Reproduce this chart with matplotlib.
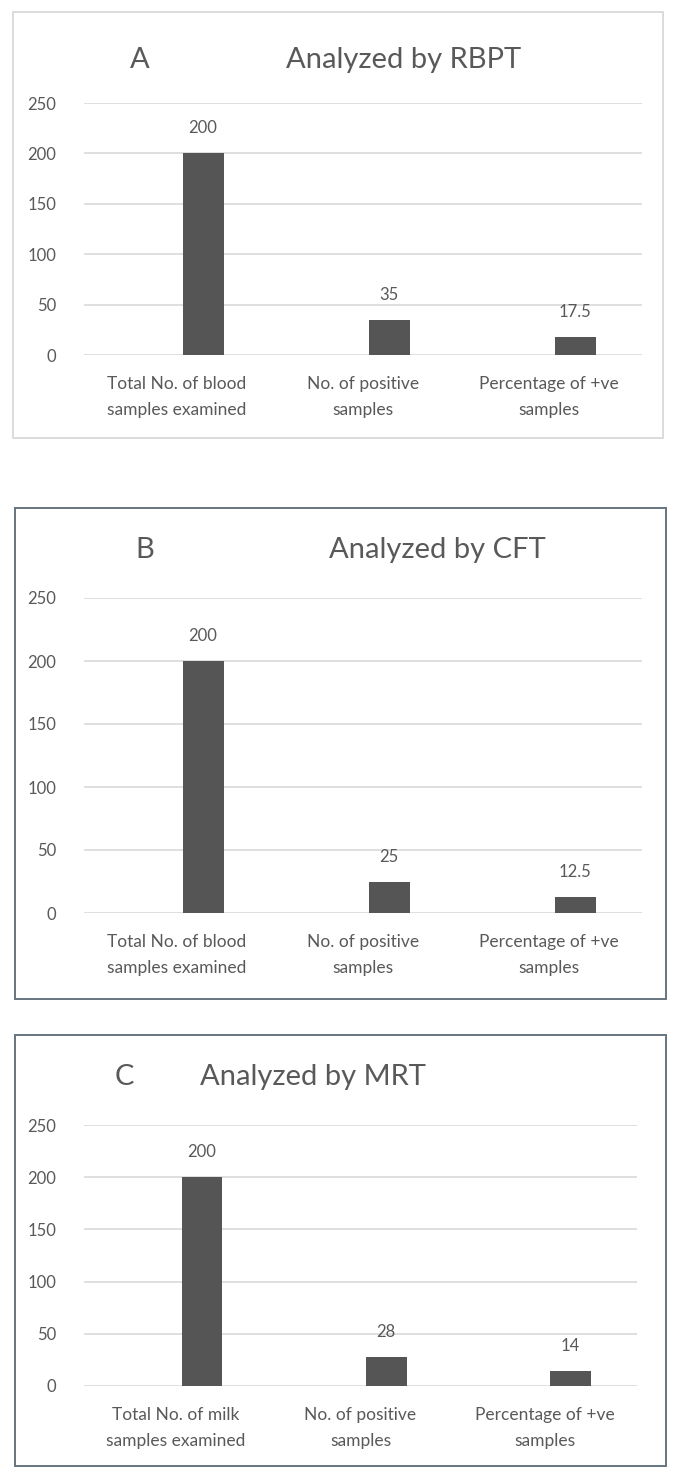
import matplotlib
matplotlib.use("Agg")
import matplotlib.pyplot as plt
from matplotlib.patches import Rectangle

plt.rcParams['font.family'] = ['Lato', 'DejaVu Sans']

# データ
letters = ["A", "B", "C"]
titles = ["Analyzed by RBPT", "Analyzed by CFT", "Analyzed by MRT"]
cats_a = ["Total No. of blood\nsamples examined", "No. of positive\nsamples", "Percentage of +ve\nsamples"]
cats_b = ["Total No. of blood\nsamples examined", "No. of positive\nsamples", "Percentage of +ve\nsamples"]
cats_c = ["Total No. of milk\nsamples examined", "No. of positive\nsamples", "Percentage of +ve\nsamples"]
vals_a = [200, 35, 17.5]
vals_b = [200, 25, 12.5]
vals_c = [200, 28, 14]
val_labels_a = ["200", "35", "17.5"]
val_labels_b = ["200", "25", "12.5"]
val_labels_c = ["200", "28", "14"]
yticks = [0, 50, 100, 150, 200, 250]

W, H = 676, 1468
fig = plt.figure(figsize=(W / 100, H / 100), dpi=100)

txt = '#595959'
bar_col = '#555555'
grid_col = '#d9d9d9'

# パネル設定 (px): 枠, 軸, タイトル位置
panels = [
    dict(box=(13, 12, 663, 438), edge='#dcdcdc', ax=(84, 103, 642, 355),
         title_y=60, letter_x=140, title_x=404,
         cats=cats_a, vals=vals_a, labels=val_labels_a),
    dict(box=(15, 508, 666, 999), edge='#65757f', ax=(84, 598, 642, 913),
         title_y=550, letter_x=145, title_x=437,
         cats=cats_b, vals=vals_b, labels=val_labels_b),
    dict(box=(15, 1035, 666, 1466), edge='#65757f', ax=(84, 1125, 637, 1386),
         title_y=1077, letter_x=124, title_x=313,
         cats=cats_c, vals=vals_c, labels=val_labels_c),
]

for i, p in enumerate(panels):
    x0, y0, x1, y1 = p['box']
    fig.patches.append(Rectangle((x0 / W, 1 - y1 / H), (x1 - x0) / W, (y1 - y0) / H,
                                 transform=fig.transFigure, fill=False,
                                 edgecolor=p['edge'], lw=1.4))
    l, t, r, b = p['ax']
    ax = fig.add_axes([l / W, 1 - b / H, (r - l) / W, (b - t) / H])
    xs = list(range(len(p['vals'])))
    # Excelのクラスター棒: 棒はカテゴリ中心から右にずれる
    ax.bar([x + 0.14 for x in xs], p['vals'], width=0.22, color=bar_col, zorder=3)
    for x, v, s in zip(xs, p['vals'], p['labels']):
        ax.annotate(s, (x + 0.14, v), xytext=(0, 18), textcoords='offset points',
                    ha='center', va='center', fontsize=12, color=txt)
    ax.set_xlim(-0.5, 2.5)
    ax.set_ylim(0, 250)
    ax.set_yticks(yticks)
    ax.set_xticks(xs)
    ax.set_xticklabels(p['cats'], fontsize=12.5, color=txt, linespacing=1.75)
    ax.tick_params(axis='y', labelsize=12, labelcolor=txt, length=0, pad=20)
    ax.tick_params(axis='x', length=0, pad=15)
    ax.grid(axis='y', color=grid_col, lw=1.2, zorder=0)
    for s in ax.spines.values():
        s.set_visible(False)
    fig.text(p['letter_x'] / W, 1 - p['title_y'] / H, letters[i], fontsize=21,
             color=txt, ha='center', va='center')
    fig.text(p['title_x'] / W, 1 - p['title_y'] / H, titles[i], fontsize=21,
             color=txt, ha='center', va='center')

fig.savefig("out.png", dpi=100, facecolor='white')
